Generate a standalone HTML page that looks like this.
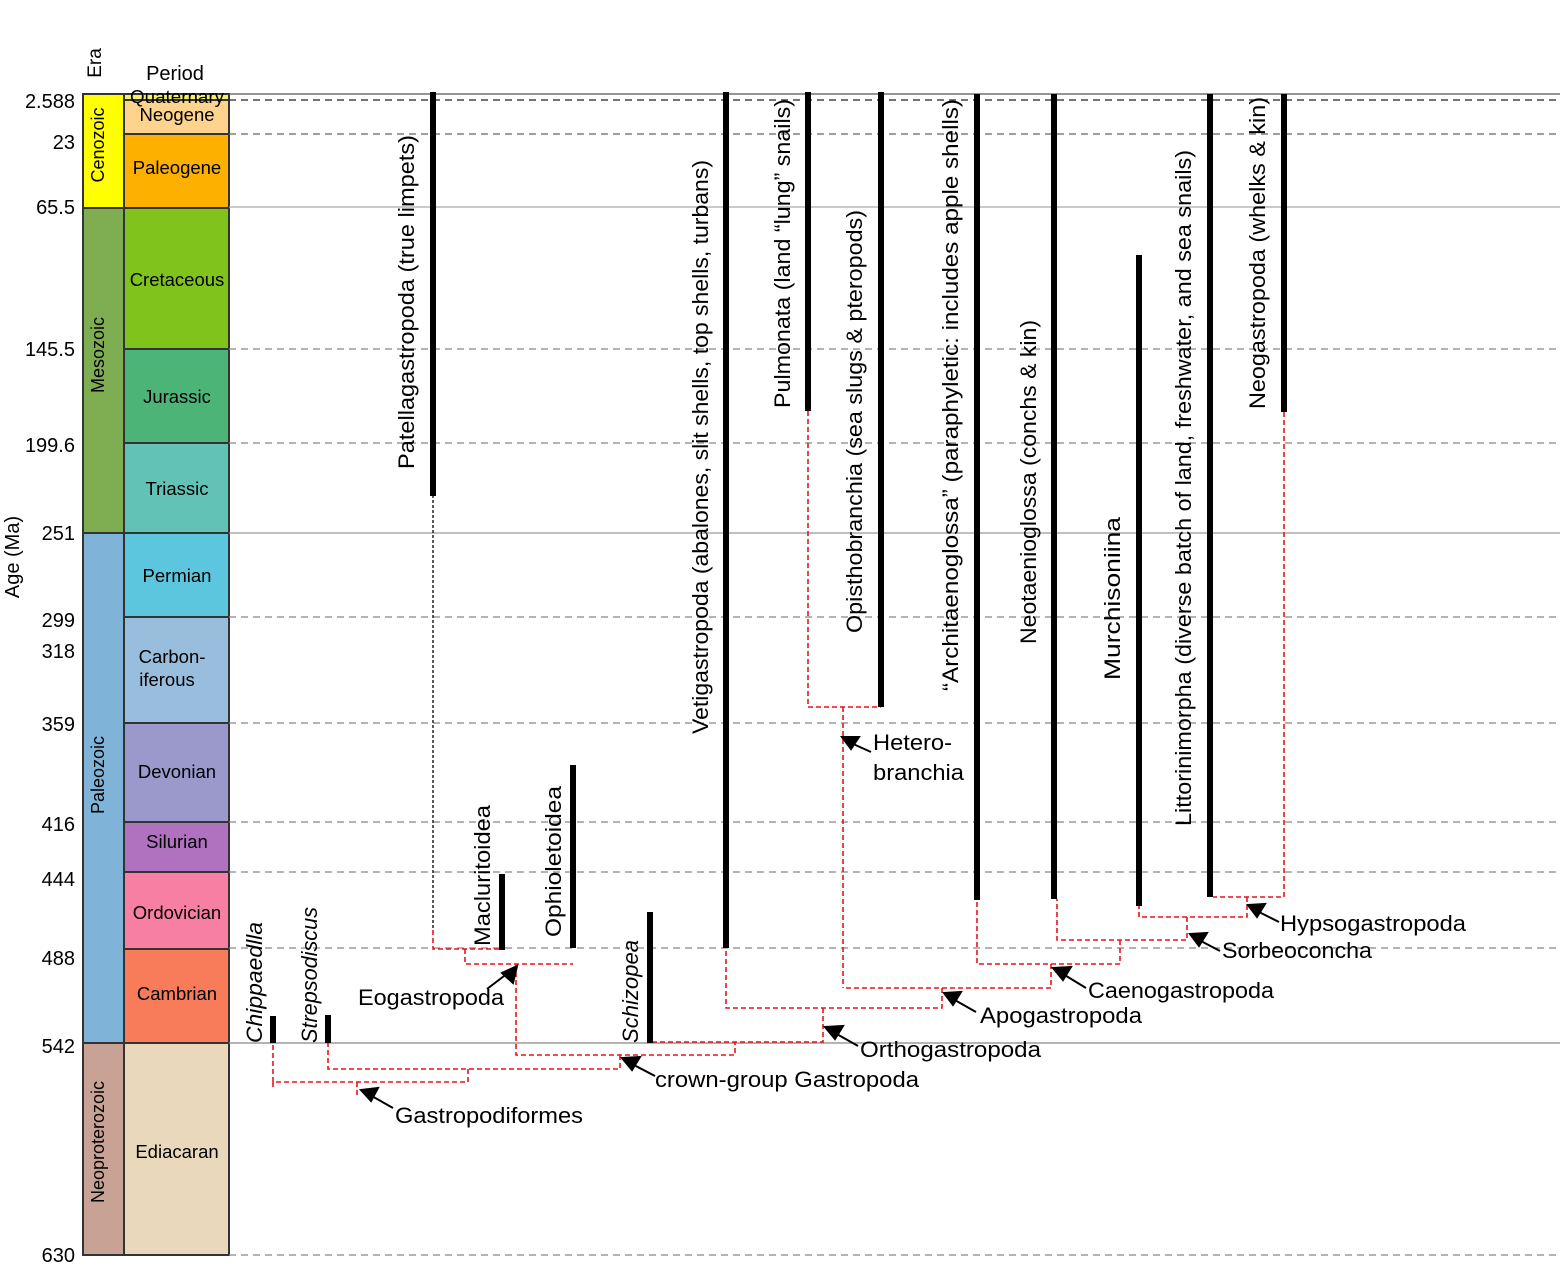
<!DOCTYPE html>
<html><head><meta charset="utf-8"><style>
html,body{margin:0;padding:0;background:#fff;}
svg{display:block;}
text{font-family:"Liberation Sans",sans-serif;fill:#000;}
</style></head><body>
<svg width="1560" height="1273" viewBox="0 0 1560 1273" xmlns="http://www.w3.org/2000/svg">
<g stroke="#333" stroke-width="2">
<rect x="83" y="94" width="41" height="114" fill="#ffff00"/>
<rect x="83" y="208" width="41" height="325" fill="#7fae52"/>
<rect x="83" y="533" width="41" height="510" fill="#7fb4d8"/>
<rect x="83" y="1043" width="41" height="212" fill="#c8a395"/>
<rect x="124" y="94" width="105" height="6" fill="#f5f06a"/>
<rect x="124" y="100" width="105" height="34" fill="#fdd38e"/>
<rect x="124" y="134" width="105" height="74" fill="#fdb000"/>
<rect x="124" y="208" width="105" height="141" fill="#7fc31c"/>
<rect x="124" y="349" width="105" height="94" fill="#4db478"/>
<rect x="124" y="443" width="105" height="90" fill="#63c2b6"/>
<rect x="124" y="533" width="105" height="84" fill="#5cc6de"/>
<rect x="124" y="617" width="105" height="106" fill="#99bddc"/>
<rect x="124" y="723" width="105" height="99" fill="#9b98cb"/>
<rect x="124" y="822" width="105" height="50" fill="#b072bf"/>
<rect x="124" y="872" width="105" height="77" fill="#f77fa4"/>
<rect x="124" y="949" width="105" height="94" fill="#f97c5a"/>
<rect x="124" y="1043" width="105" height="212" fill="#e9d8bb"/>
</g>
<g stroke-width="1.3">
<line x1="229" y1="94" x2="1560" y2="94" stroke="#555"/>
<line x1="229" y1="100" x2="1560" y2="100" stroke="#222" stroke-dasharray="7,5"/>
<line x1="229" y1="134" x2="1560" y2="134" stroke="#666" stroke-dasharray="7,5"/>
<line x1="229" y1="207" x2="1560" y2="207" stroke="#aaa"/>
<line x1="229" y1="349" x2="1560" y2="349" stroke="#888" stroke-dasharray="7,5"/>
<line x1="229" y1="443" x2="1560" y2="443" stroke="#888" stroke-dasharray="7,5"/>
<line x1="229" y1="533" x2="1560" y2="533" stroke="#999"/>
<line x1="229" y1="617" x2="1560" y2="617" stroke="#888" stroke-dasharray="7,5"/>
<line x1="229" y1="723" x2="1560" y2="723" stroke="#888" stroke-dasharray="7,5"/>
<line x1="229" y1="822" x2="1560" y2="822" stroke="#888" stroke-dasharray="7,5"/>
<line x1="229" y1="872" x2="1560" y2="872" stroke="#888" stroke-dasharray="7,5"/>
<line x1="229" y1="948" x2="1560" y2="948" stroke="#888" stroke-dasharray="7,5"/>
<line x1="229" y1="1043" x2="1560" y2="1043" stroke="#888"/>
<line x1="229" y1="1255" x2="1560" y2="1255" stroke="#888" stroke-dasharray="7,5"/>
</g>
<g font-size="20" text-anchor="end">
<text x="75" y="108">2.588</text>
<text x="75" y="149">23</text>
<text x="75" y="214">65.5</text>
<text x="75" y="356">145.5</text>
<text x="75" y="452">199.6</text>
<text x="75" y="540">251</text>
<text x="75" y="627">299</text>
<text x="75" y="658">318</text>
<text x="75" y="731">359</text>
<text x="75" y="831">416</text>
<text x="75" y="886">444</text>
<text x="75" y="965">488</text>
<text x="75" y="1053">542</text>
<text x="75" y="1262">630</text>
</g>
<text transform="translate(19,557) rotate(-90)" font-size="20" text-anchor="middle">Age (Ma)</text>
<text transform="translate(101,63) rotate(-90)" font-size="19" text-anchor="middle">Era</text>
<text x="175" y="80" font-size="20" text-anchor="middle">Period</text>
<g font-size="18" text-anchor="middle">
<text transform="translate(104,145) rotate(-90)">Cenozoic</text>
<text transform="translate(104,355) rotate(-90)">Mesozoic</text>
<text transform="translate(104,775) rotate(-90)">Paleozoic</text>
<text transform="translate(104,1142) rotate(-90)">Neoproterozoic</text>
</g>
<g font-size="18.5" text-anchor="middle">
<text x="177" y="103" textLength="94" lengthAdjust="spacingAndGlyphs">Quaternary</text>
<text x="177" y="121">Neogene</text>
<text x="177" y="174">Paleogene</text>
<text x="177" y="286">Cretaceous</text>
<text x="177" y="403">Jurassic</text>
<text x="177" y="495">Triassic</text>
<text x="172" y="663">Carbon-</text>
<text x="167" y="686">iferous</text>
<text x="177" y="582">Permian</text>
<text x="177" y="778">Devonian</text>
<text x="177" y="848">Silurian</text>
<text x="177" y="919">Ordovician</text>
<text x="177" y="1000">Cambrian</text>
<text x="177" y="1158">Ediacaran</text>
</g>
<g fill="none" stroke="#e8141b" stroke-width="1.6" stroke-dasharray="5,3">
<polyline points="808,411 808,707 881,707"/>
<polyline points="843,707 843,988"/>
<polyline points="1284,412 1284,897 1213,897"/>
<polyline points="1247,897 1247,917 1139,917 1139,906"/>
<polyline points="1187,917 1187,940 1057,940 1057,899"/>
<polyline points="1120,940 1120,964 977,964 977,900"/>
<polyline points="1051,964 1051,988 843,988"/>
<polyline points="942,988 942,1008 726,1008 726,948"/>
<polyline points="823,1008 823,1042 652,1042"/>
<polyline points="433,930 433,949 502,949"/>
<polyline points="465,949 465,964 573,964"/>
<polyline points="516,964 516,1055 735,1055 735,1042"/>
<polyline points="620,1055 620,1069 328,1069 328,1043"/>
<polyline points="468,1069 468,1082 273,1082 273,1043"/>
<polyline points="273,1082 273,1088"/>
<polyline points="357,1082 357,1097"/>
</g>
<line x1="433" y1="495" x2="433" y2="930" stroke="#000" stroke-width="1.3" stroke-dasharray="3,2"/>
<g stroke="#000" stroke-width="6">
<line x1="433" y1="92" x2="433" y2="496"/>
<line x1="726" y1="92" x2="726" y2="948"/>
<line x1="808" y1="92" x2="808" y2="411"/>
<line x1="881" y1="92" x2="881" y2="707"/>
<line x1="977" y1="94" x2="977" y2="900"/>
<line x1="1054" y1="94" x2="1054" y2="899"/>
<line x1="1139" y1="255" x2="1139" y2="906"/>
<line x1="1210" y1="94" x2="1210" y2="897"/>
<line x1="1284" y1="94" x2="1284" y2="412"/>
<line x1="502" y1="874" x2="502" y2="950"/>
<line x1="573" y1="765" x2="573" y2="948"/>
<line x1="650" y1="912" x2="650" y2="1043"/>
<line x1="273" y1="1016" x2="273" y2="1043"/>
<line x1="328" y1="1015" x2="328" y2="1043"/>
</g>
<g font-size="22">
<text transform="translate(414,469) rotate(-90)" textLength="334" lengthAdjust="spacingAndGlyphs">Patellagastropoda (true limpets)</text>
<text transform="translate(708,734) rotate(-90)" textLength="574" lengthAdjust="spacingAndGlyphs">Vetigastropoda (abalones, slit shells, top shells, turbans)</text>
<text transform="translate(790,408) rotate(-90)" textLength="309" lengthAdjust="spacingAndGlyphs">Pulmonata (land “lung” snails)</text>
<text transform="translate(862,633) rotate(-90)" textLength="423" lengthAdjust="spacingAndGlyphs">Opisthobranchia (sea slugs &amp; pteropods)</text>
<text transform="translate(958,691) rotate(-90)" textLength="592" lengthAdjust="spacingAndGlyphs">“Architaenoglossa” (paraphyletic: includes apple shells)</text>
<text transform="translate(1036,644) rotate(-90)" textLength="324" lengthAdjust="spacingAndGlyphs">Neotaenioglossa (conchs &amp; kin)</text>
<text transform="translate(1120,680) rotate(-90)" textLength="163" lengthAdjust="spacingAndGlyphs">Murchisoniina</text>
<text transform="translate(1191,826) rotate(-90)" textLength="676" lengthAdjust="spacingAndGlyphs">Littorinimorpha (diverse batch of land, freshwater, and sea snails)</text>
<text transform="translate(1265,409) rotate(-90)" textLength="312" lengthAdjust="spacingAndGlyphs">Neogastropoda (whelks &amp; kin)</text>
<text transform="translate(490,946) rotate(-90)" textLength="141" lengthAdjust="spacingAndGlyphs">Macluritoidea</text>
<text transform="translate(561,937) rotate(-90)" textLength="151" lengthAdjust="spacingAndGlyphs">Ophioletoidea</text>
<g font-style="italic">
<text transform="translate(638,1043) rotate(-90)" textLength="103" lengthAdjust="spacingAndGlyphs">Schizopea</text>
<text transform="translate(262,1043) rotate(-90)" textLength="121" lengthAdjust="spacingAndGlyphs">Chippaedlla</text>
<text transform="translate(317,1043) rotate(-90)" textLength="136" lengthAdjust="spacingAndGlyphs">Strepsodiscus</text>
</g>
</g>
<g stroke="#000" stroke-width="2" fill="#000">
<line x1="393" y1="1108" x2="370" y2="1095"/><polygon points="361,1090 378,1088 371,1101"/>
<line x1="655" y1="1076" x2="632" y2="1064"/><polygon points="622,1058 640,1057 632,1070"/>
<line x1="858" y1="1046" x2="835" y2="1033"/><polygon points="825,1027 843,1026 835,1039"/>
<line x1="976" y1="1012" x2="953" y2="999"/><polygon points="944,993 961,992 953,1005"/>
<line x1="1086" y1="988" x2="1063" y2="974"/><polygon points="1053,968 1071,967 1063,980"/>
<line x1="1220" y1="951" x2="1199" y2="940"/><polygon points="1190,934 1207,933 1199,946"/>
<line x1="1279" y1="922" x2="1257" y2="911"/><polygon points="1248,905 1265,904 1257,917"/>
<line x1="871" y1="752" x2="851" y2="743"/><polygon points="842,737 859,737 851,749"/>
<line x1="487" y1="989" x2="508" y2="973"/><polygon points="517,966 513,983 502,973"/>
</g>
<g font-size="22">
<text x="395" y="1123" textLength="188" lengthAdjust="spacingAndGlyphs">Gastropodiformes</text>
<text x="655" y="1087" textLength="264" lengthAdjust="spacingAndGlyphs">crown-group Gastropoda</text>
<text x="860" y="1057" textLength="181" lengthAdjust="spacingAndGlyphs">Orthogastropoda</text>
<text x="980" y="1023" textLength="162" lengthAdjust="spacingAndGlyphs">Apogastropoda</text>
<text x="1088" y="998" textLength="186" lengthAdjust="spacingAndGlyphs">Caenogastropoda</text>
<text x="1222" y="958" textLength="150" lengthAdjust="spacingAndGlyphs">Sorbeoconcha</text>
<text x="1280" y="931" textLength="186" lengthAdjust="spacingAndGlyphs">Hypsogastropoda</text>
<text x="873" y="750" textLength="79" lengthAdjust="spacingAndGlyphs">Hetero-</text>
<text x="873" y="780" textLength="91" lengthAdjust="spacingAndGlyphs">branchia</text>
<text x="358" y="1005" textLength="146" lengthAdjust="spacingAndGlyphs">Eogastropoda</text>
</g>
</svg>
</body></html>
